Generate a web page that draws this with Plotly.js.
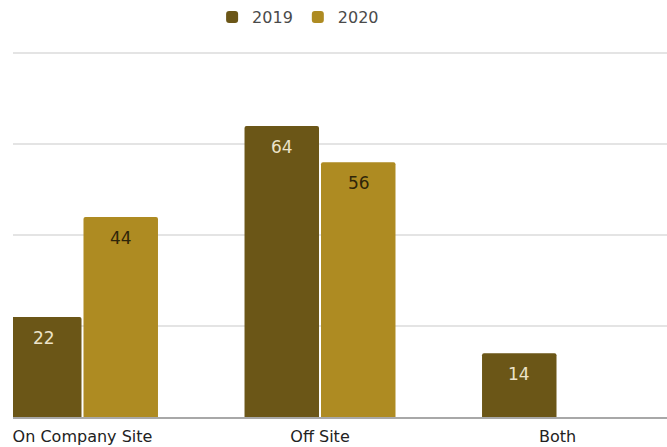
<!DOCTYPE html>
<html>
<head>
<meta charset="utf-8">
<script src="https://cdn.plot.ly/plotly-3.0.1.min.js"></script>
<style>html,body{margin:0;padding:0;background:#fff}#chart{width:667px;height:447px}</style>
</head>
<body>
<div id="chart"></div>
<script>
const categories = ["On Company Site", "Off Site", "Both"];
const seriesNames = ["2019", "2020"];
const values2019 = [22, 64, 14];
const values2020 = [44, 56, null];
const yTicks = [0, 20, 40, 60, 80];

const colors = ["#6b5617", "#ae8b22"];
const labelColors = ["#ece3c9", "#2e2509"];
const FONT = "DejaVu Sans, Verdana, sans-serif";

const traces = [values2019, values2020].map((vals, i) => ({
  type: "bar",
  name: seriesNames[i],
  x: categories,
  y: vals,
  marker: { color: colors[i], line: { width: 0 } },
  hoverinfo: "skip"
}));

// value labels placed near the top of each bar
const annotations = [];
[values2019, values2020].forEach((vals, i) => {
  vals.forEach((v, j) => {
    if (v === null) return;
    annotations.push({
      x: categories[j], y: v, xref: "x", yref: "y",
      text: String(v), showarrow: false,
      xshift: i === 0 ? -38.5 : 38.5, yshift: -21,
      yanchor: "middle",
      font: { family: FONT, size: 17, color: labelColors[i] }
    });
  });
});

const layout = {
  width: 667, height: 447,
  margin: { l: 13, r: 0, t: 52, b: 30, pad: 0 },
  paper_bgcolor: "#ffffff", plot_bgcolor: "#ffffff",
  barmode: "group", bargap: 0.356, bargroupgap: 0.026,
  barcornerradius: 2,
  font: { family: FONT, size: 16, color: "#222" },
  showlegend: true,
  legend: {
    orientation: "h", xref: "container", yref: "container",
    x: 0.318, xanchor: "left", y: 1.0, yanchor: "top",
    font: { family: FONT, size: 16, color: "#4a4a4a" },
    bgcolor: "rgba(0,0,0,0)", traceorder: "normal"
  },
  xaxis: {
    type: "category",
    range: [-0.2926, 2.461],
    showgrid: false, zeroline: false,
    showline: true, linecolor: "#a8a8a8", linewidth: 2,
    ticks: "", ticklabelstandoff: 4,
    tickfont: { family: FONT, size: 16, color: "#222" },
    fixedrange: true
  },
  yaxis: {
    range: [0, 80.25], tickvals: yTicks,
    showticklabels: false, showgrid: true,
    gridcolor: "#e4e4e4", gridwidth: 1.5,
    zeroline: false, showline: false, ticks: "",
    fixedrange: true
  },
  annotations: annotations
};

Plotly.newPlot("chart", traces, layout, { displayModeBar: false, staticPlot: true });
</script>
</body>
</html>
